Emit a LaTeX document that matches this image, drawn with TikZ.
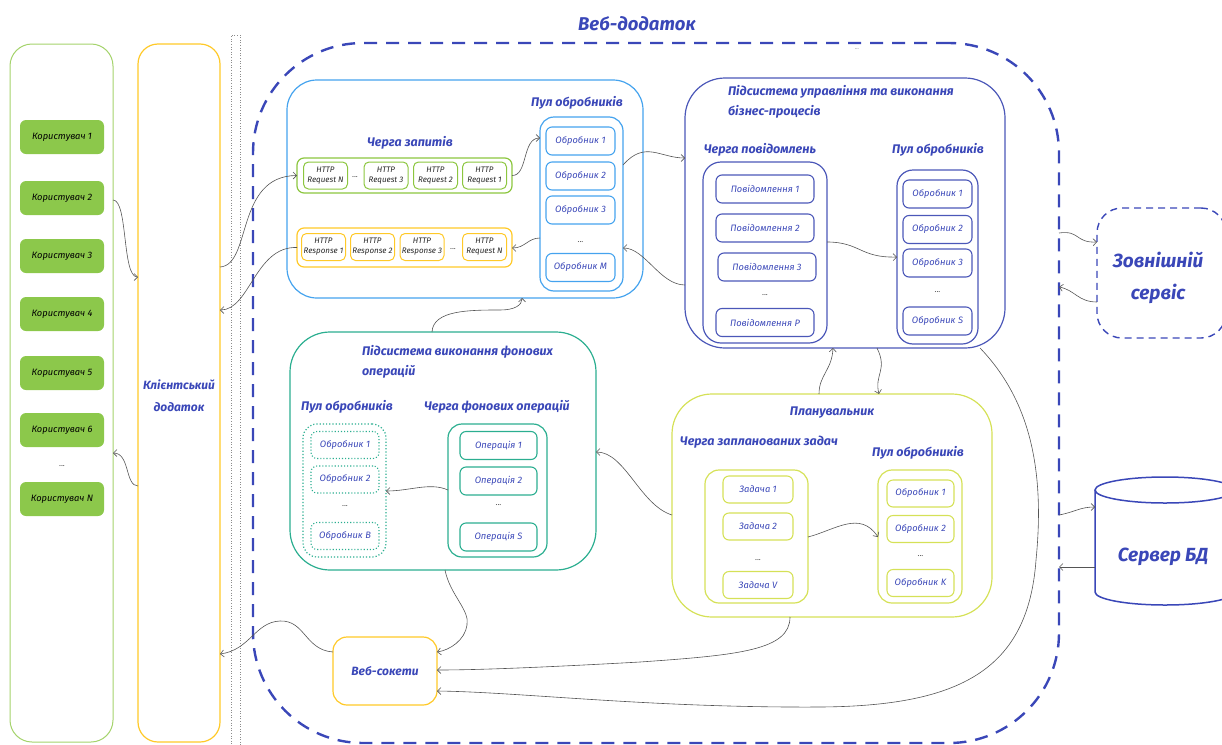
\documentclass[tikz,border=0pt]{standalone}
\usepackage{fontspec}
\setmainfont{Fira Sans}
\usetikzlibrary{arrows.meta}
\definecolor{wb}{HTML}{3A47B8}
\definecolor{bsub}{HTML}{4B57B8}
\definecolor{httpb}{HTML}{45A3EE}
\definecolor{qgreen}{HTML}{8CC63F}
\definecolor{ugreen}{HTML}{8CC84B}
\definecolor{ucont}{HTML}{A4D36B}
\definecolor{yel}{HTML}{FFC928}
\definecolor{teal1}{HTML}{2BAE90}
\definecolor{lime1}{HTML}{D5E157}
\definecolor{connc}{HTML}{555555}
\tikzset{
  every node/.style={inner sep=0pt,outer sep=0pt},
  ubox/.style={fill=ugreen,rounded corners=6pt,minimum width=84pt,minimum height=34pt,
    font=\fontsize{9.3}{11}\selectfont\itshape,text=black},
  cont/.style={draw,rounded corners=#1,line width=1.2pt},
  ibox/.style={draw,rounded corners=6pt,line width=1.1pt,minimum height=28pt,
    font=\fontsize{9.3}{11}\selectfont\itshape,text=wb},
  hbox/.style={draw,rounded corners=5pt,line width=1pt,minimum width=44pt,minimum height=27pt,
    font=\fontsize{8}{10}\selectfont\itshape,text=black!85,align=center},
  ttl/.style={text=wb,font=\fontsize{12.5}{15}\selectfont\bfseries\itshape},
  dots/.style={font=\fontsize{8}{9}\selectfont,text=black!70},
  conn/.style={draw=connc,line width=0.6pt,-{Straight Barb[length=3.5pt,width=7pt]}},
}
\begin{document}
\begin{tikzpicture}[x=1pt,y=-1pt]
\useasboundingbox (0,0) rectangle (1222,744);

% ---------- users ----------
\node[cont=22pt,draw=ucont,line width=1pt,minimum width=103pt,minimum height=698pt] (uc) at (61.5,393) {};
\node[ubox] (u1) at (62,137) {Користувач 1};
\node[ubox] (u2) at (62,198) {Користувач 2};
\node[ubox] (u3) at (62,256) {Користувач 3};
\node[ubox] (u4) at (62,314) {Користувач 4};
\node[ubox] (u5) at (62,373) {Користувач 5};
\node[ubox] (u6) at (62,430) {Користувач 6};
\node[dots] (ud) at (62,466) {...};
\node[ubox] (uN) at (62,499) {Користувач N};

% ---------- client app ----------
\node[cont=20pt,draw=yel,minimum width=82pt,minimum height=698pt] (ca) at (179,393) {};
\node[ttl,font=\fontsize{12}{22}\selectfont\bfseries\itshape,align=center] (cal) at (179,396) {Клієнтський\\додаток};

% separator
\node[draw=black!45,dotted,line width=0.6pt,minimum width=9pt,minimum height=714pt] (sep) at (235.5,392) {};

% ---------- web app ----------
\node[draw=wb,line width=2.4pt,dash pattern=on 13pt off 9pt,rounded corners=110pt,
  minimum width=806pt,minimum height=700pt] (webapp) at (656,393) {};
\node[text=wb,font=\fontsize{18.5}{22}\selectfont\bfseries\itshape] (wat) at (637,24) {Веб-додаток};
\node[font=\fontsize{5}{6}\selectfont,text=black!60] (wadot) at (857,49) {...};

% ---------- HTTP subsystem ----------
\node[cont=30pt,draw=httpb,minimum width=356pt,minimum height=218pt] (http) at (465,189) {};
\node[ttl] (rqt) at (410,143) {Черга запитів};
\node[cont=7pt,draw=qgreen,minimum width=215pt,minimum height=35pt] (reqq) at (404.5,175.5) {};
\node[hbox,draw=qgreen] (rN) at (325.5,175.5) {HTTP\\Request N};
\node[dots] (rd) at (355,177) {...};
\node[hbox,draw=qgreen] (r3) at (386,175.5) {HTTP\\Request 3};
\node[hbox,draw=qgreen] (r2) at (435.5,175.5) {HTTP\\Request 2};
\node[hbox,draw=qgreen] (r1) at (484.5,175.5) {HTTP\\Request 1};
\node[cont=7pt,draw=yel,minimum width=215pt,minimum height=39pt] (respq) at (404.5,247.5) {};
\node[hbox,draw=yel] (s1) at (323.5,247) {HTTP\\Response 1};
\node[hbox,draw=yel] (s2) at (372.5,247) {HTTP\\Response 2};
\node[hbox,draw=yel] (s3) at (422,247) {HTTP\\Response 3};
\node[dots] (sd) at (453,249) {...};
\node[hbox,draw=yel] (sN) at (484.5,247) {HTTP\\Request N};
\node[ttl] (hpt) at (577,103) {Пул обробників};
\node[cont=14pt,draw=httpb,minimum width=83pt,minimum height=174pt] (hpool) at (581.5,204) {};
\node[ibox,draw=httpb,minimum width=69pt] (h1) at (580.5,141) {Обробник 1};
\node[ibox,draw=httpb,minimum width=69pt] (h2) at (580.5,176) {Обробник 2};
\node[ibox,draw=httpb,minimum width=69pt] (h3) at (580.5,210) {Обробник 3};
\node[dots] (hd) at (580.5,242) {...};
\node[ibox,draw=httpb,minimum width=69pt] (hM) at (580.5,267.5) {Обробник M};

% ---------- business subsystem ----------
\node[cont=40pt,draw=bsub,minimum width=320pt,minimum height=270pt] (bus) at (845,213) {};
\node[ttl,font=\fontsize{12.5}{20}\selectfont\bfseries\itshape,anchor=north west,align=left] (bust) at (728,85) {Підсистема управління та виконання\\бізнес-процесів};
\node[ttl] (mqt) at (760,150) {Черга повідомлень};
\node[cont=18pt,draw=bsub,minimum width=124pt,minimum height=181pt] (msgq) at (765,252.5) {};
\node[ibox,draw=bsub,minimum width=98pt] (m1) at (765,189) {Повідомлення 1};
\node[ibox,draw=bsub,minimum width=98pt] (m2) at (765,228) {Повідомлення 2};
\node[ibox,draw=bsub,minimum width=98pt] (m3) at (767,267) {Повідомлення 3};
\node[dots] (md) at (765,295) {...};
\node[ibox,draw=bsub,minimum width=98pt] (mP) at (765,322.5) {Повідомлення P};
\node[ttl] (bpt) at (938,150) {Пул обробників};
\node[cont=16pt,draw=bsub,minimum width=81pt,minimum height=174pt] (bpool) at (937.5,257) {};
\node[ibox,draw=bsub,minimum width=69pt] (b1) at (937.5,194) {Обробник 1};
\node[ibox,draw=bsub,minimum width=69pt] (b2) at (937.5,229.5) {Обробник 2};
\node[ibox,draw=bsub,minimum width=69pt] (b3) at (937.5,263) {Обробник 3};
\node[dots] (bd) at (937.5,292) {...};
\node[ibox,draw=bsub,minimum width=69pt] (bS) at (937.5,321) {Обробник S};

% ---------- external service ----------
\node[draw=wb,line width=1.4pt,dash pattern=on 7pt off 5pt,rounded corners=25pt,
  minimum width=129pt,minimum height=130pt] (ext) at (1161.5,273) {};
\node[text=wb,font=\fontsize{19}{32}\selectfont\bfseries\itshape,align=center] (extl) at (1158,278) {Зовнішній\\сервіс};

% ---------- DB ----------
\draw[wb,line width=1.5pt,fill=white] (1095,490) -- (1095,592)
  arc[start angle=180,end angle=360,x radius=70pt,y radius=13pt] -- (1235,490);
\draw[wb,line width=1.5pt] (1165,490) ellipse[x radius=70pt,y radius=13pt];
\node[minimum width=140pt,minimum height=128pt] (db) at (1165,541) {};
\node[text=wb,font=\fontsize{19}{22}\selectfont\bfseries\itshape] (dbl) at (1163,557) {Сервер БД};

% ---------- background subsystem ----------
\node[cont=40pt,draw=teal1,minimum width=306pt,minimum height=238pt] (bg) at (443,451) {};
\node[ttl,font=\fontsize{12.5}{20}\selectfont\bfseries\itshape,anchor=north west,align=left] (bgt) at (362,345) {Підсистема виконання фонових\\операцій};
\node[ttl] (gpt) at (347,407) {Пул обробників};
\node[ttl] (oqt) at (497,407) {Черга фонових операцій};
\node[draw=teal1,dotted,line width=1.2pt,rounded corners=14pt,minimum width=83pt,minimum height=133pt] (gpool) at (344.5,490.5) {};
\node[ibox,draw=teal1,dotted,minimum width=68pt,minimum height=27pt] (g1) at (345,445) {Обробник 1};
\node[ibox,draw=teal1,dotted,minimum width=68pt,minimum height=27pt] (g2) at (345,479.5) {Обробник 2};
\node[dots] (gd) at (345,506) {...};
\node[ibox,draw=teal1,dotted,minimum width=68pt,minimum height=27pt] (gB) at (345,536) {Обробник B};
\node[cont=14pt,draw=teal1,minimum width=99pt,minimum height=133pt] (opq) at (497.5,490.5) {};
\node[ibox,draw=teal1,minimum width=77pt] (o1) at (498.5,445.5) {Операція 1};
\node[ibox,draw=teal1,minimum width=77pt] (o2) at (498.5,481) {Операція 2};
\node[dots] (od) at (498.5,505) {...};
\node[ibox,draw=teal1,minimum width=77pt] (oS) at (498.5,537) {Операція S};

% ---------- scheduler ----------
\node[cont=40pt,draw=lime1,minimum width=320pt,minimum height=223pt] (sch) at (832,505.5) {};
\node[ttl] (scht) at (832,413) {Планувальник};
\node[ttl] (tqt) at (759,442) {Черга запланованих задач};
\node[ttl] (spt) at (918,453) {Пул обробників};
\node[cont=14pt,draw=lime1,minimum width=103pt,minimum height=133pt] (tq) at (756.5,536.5) {};
\node[ibox,draw=lime1,minimum width=70pt,minimum height=27pt] (t1) at (758,489.5) {Задача 1};
\node[ibox,draw=lime1,minimum width=70pt,minimum height=27pt] (t2) at (758,526.5) {Задача 2};
\node[dots] (td) at (758,560) {...};
\node[ibox,draw=lime1,minimum width=70pt,minimum height=27pt] (tV) at (758,585) {Задача V};
\node[cont=14pt,draw=lime1,minimum width=84pt,minimum height=133pt] (spool) at (920,536.5) {};
\node[ibox,draw=lime1,minimum width=67pt,minimum height=27pt] (k1) at (920.5,493.5) {Обробник 1};
\node[ibox,draw=lime1,minimum width=67pt,minimum height=27pt] (k2) at (920.5,529) {Обробник 2};
\node[dots] (kd) at (920.5,556) {...};
\node[ibox,draw=lime1,minimum width=67pt,minimum height=27pt] (kK) at (920.5,583) {Обробник K};

% ---------- websockets ----------
\node[cont=14pt,draw=yel,minimum width=104pt,minimum height=68pt,
  text=wb,font=\fontsize{12}{14}\selectfont\bfseries\itshape] (ws) at (385,671) {Веб-сокети};

% ---------- connectors ----------
\draw[conn] (uc.east |- 0,200) .. controls (128,200) and (122,277) .. (ca.west |- 0,277);
\draw[conn] (ca.west |- 0,486) .. controls (125,486) and (130,453) .. (uc.east |- 0,453);
\draw[conn] (ca.east |- 0,267) .. controls (252,265) and (235,176) .. (reqq.west);
\draw[conn] (respq.west) .. controls (255,246) and (250,310) .. (ca.east |- 0,310);
\draw[conn] (reqq.east) .. controls (528,176) and (522,138) .. (hpool.west |- 0,138);
\draw[conn] (hpool.west |- 0,238) .. controls (528,238) and (525,248) .. (respq.east |- 0,248);
\draw[conn] (hpool.east |- 0,165) .. controls (645,140) and (660,158) .. (bus.west |- 0,158);
\draw[conn] (bus.west |- 0,285) .. controls (660,285) and (645,248) .. (hpool.east |- 0,248);
\draw[conn] (msgq.east |- 0,242) .. controls (860,242) and (860,258) .. (bpool.west |- 0,257);
\draw[conn] (webapp.east |- 0,233) .. controls (1080,230) and (1075,243) .. (ext.west |- 0,242);
\draw[conn] (ext.west |- 0,302) .. controls (1078,302) and (1075,290) .. (webapp.east |- 0,287);
\draw[conn] (webapp.east |- 0,515) .. controls (1075,512) and (1080,507) .. (db.west |- 0,507);
\draw[conn] (db.west |- 0,567) -- (webapp.east |- 0,567);
\draw[conn] (bus.south -| 980,0) .. controls (1030,400) and (1045,470) .. (1036,560)
  .. controls (1028,670) and (960,706) .. (820,707)
  .. controls (650,708) and (520,692) .. (ws.east |- 0,691);
\draw[conn] (sch.north -| 819,0) .. controls (819,375) and (832,370) .. (bus.south -| 833,0);
\draw[conn] (bus.south -| 877,0) .. controls (888,370) and (874,375) .. (sch.north -| 879,0);
\draw[conn] (tq.east |- 0,537) .. controls (835,530) and (860,510) .. (spool.west |- 0,537);
\draw[conn] (sch.west |- 0,515) .. controls (640,505) and (625,452) .. (bg.east |- 0,452);
\draw[conn] (opq.west |- 0,490) .. controls (430,482) and (410,491) .. (gpool.east |- 0,491);
\draw[conn] (bg.north -| 432,0) .. controls (433,310) and (470,310) .. (500,310)
  .. controls (515,310) and (522,305) .. (http.south -| 522,0);
\draw[conn] (bg.south -| 445,0) .. controls (450,595) and (470,610) .. (467,625)
  .. controls (465,640) and (450,650) .. (ws.east |- 0,652);
\draw[conn] (sch.south -| 790,0) .. controls (790,650) and (740,655) .. (640,662)
  .. controls (550,667) and (480,670) .. (ws.east |- 0,670);
\draw[conn] (ws.west |- 0,652) .. controls (305,650) and (305,620) .. (280,621)
  .. controls (255,622) and (250,650) .. (ca.east |- 0,654);
\end{tikzpicture}
\end{document}
